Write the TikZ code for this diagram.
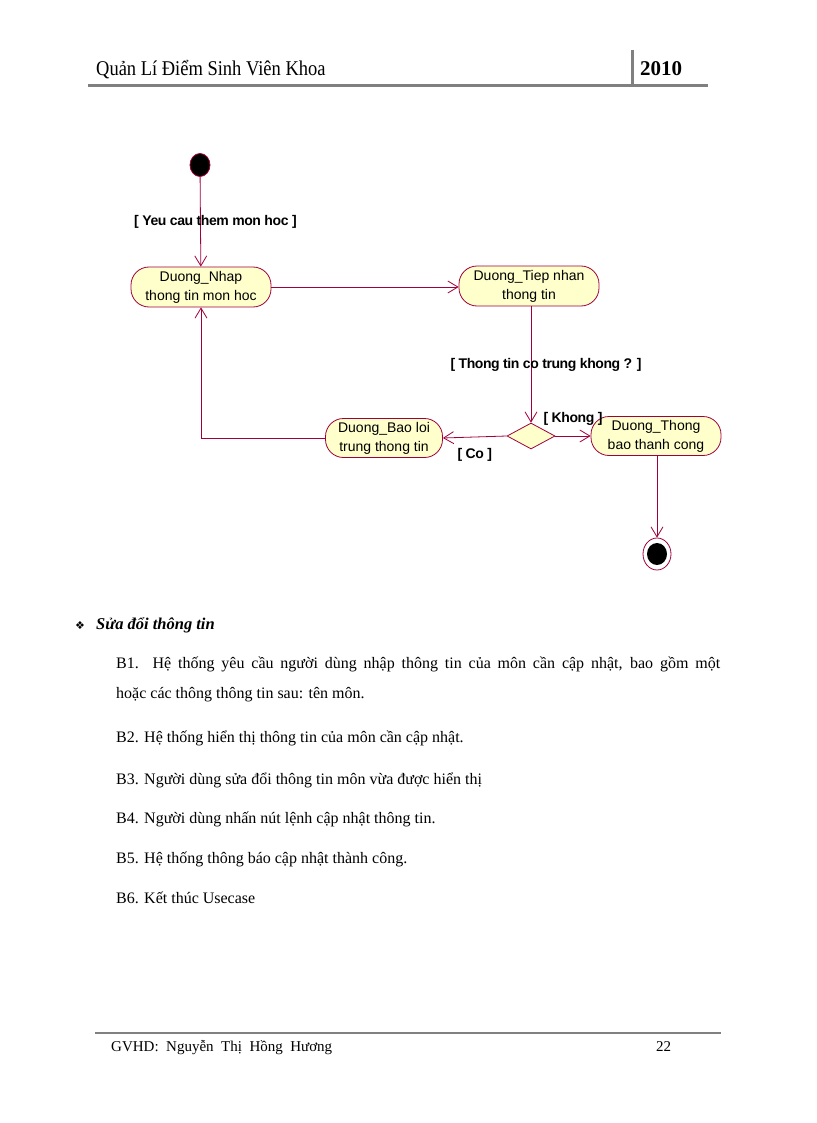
\documentclass[tikz,border=0pt]{standalone}
\usepackage{fontspec}
\setmainfont{Liberation Serif}
\newfontfamily\arialf{Liberation Sans}
\newfontfamily\lblfont[LetterSpace=-3]{Liberation Sans}
\newfontfamily\hdrfont[FakeStretch=0.88]{Liberation Serif}
\newfontfamily\dejavu{DejaVu Sans}
\usetikzlibrary{arrows.meta,shapes.geometric}
\definecolor{umlred}{RGB}{160,0,60}
\definecolor{umlfill}{RGB}{255,255,204}
\definecolor{rulegray}{RGB}{128,128,128}
\tikzset{
  activity/.style={draw=umlred, fill=umlfill, line width=0.8pt, rounded corners=18pt,
    minimum width=140pt, minimum height=40pt, inner sep=0pt, align=center,
    font=\arialf\fontsize{14}{19}\selectfont},
  flow/.style={draw=umlred, line width=0.8pt, -{Straight Barb[length=10pt,width=12pt,line width=0.8pt]}},
  lbl/.style={font=\lblfont\bfseries\fontsize{14}{16}\selectfont, inner sep=0pt},
  bodytext/.style={anchor=base west, inner sep=0pt, font=\fontsize{16}{30}\selectfont},
  rulefill/.style={draw=rulegray, line width=3pt}
}
\begin{document}
\begin{tikzpicture}[x=1pt,y=-1pt]
\useasboundingbox (0,0) rectangle (816,1123);
% header
\node[anchor=base west, inner sep=0pt, font=\hdrfont\fontsize{21}{24}\selectfont] (htitle) at (96,76) {Quản Lí Điểm Sinh Viên Khoa};
\node[anchor=base west, inner sep=0pt, font=\fontsize{21}{24}\selectfont\bfseries] (hyear) at (640,76) {2010};
\coordinate (hl1) at (88,86);
\coordinate (hl2) at (708,86);
\coordinate (hv1) at (632,50);
\coordinate (hv2) at (632,86);
\draw[rulefill] (hl1) -- (hl2);
\draw[rulefill] (hv1) -- (hv2);

% diagram
\node[ellipse, draw=umlred, fill=black, line width=0.8pt, minimum width=20pt, minimum height=23pt, inner sep=0pt] (start) at (200,165) {};
\node[activity] (nhap) at (201,287) {\raisebox{-2pt}{\parbox{140pt}{\centering Duong\_Nhap\\thong tin mon hoc}}};
\node[activity] (tiep) at (529,286) {\raisebox{-2pt}{\parbox{140pt}{\centering Duong\_Tiep nhan\\thong tin}}};
\node[diamond, draw=umlred, fill=umlfill, line width=0.8pt, minimum width=48pt, minimum height=26pt, aspect=1.85, inner sep=0pt] (dec) at (531,436) {};
\node[activity, minimum width=130pt, minimum height=39pt] (thong) at (656,436) {Duong\_Thong\\bao thanh cong};
\node[activity, minimum width=117pt, minimum height=39pt] (bao) at (384,438) {Duong\_Bao loi\\trung thong tin};
\node[ellipse, draw=umlred, fill=white, line width=0.8pt, minimum width=28pt, minimum height=32pt, inner sep=0pt] (fin) at (657,554) {};
\fill[black] (fin.center) ellipse [x radius=10pt, y radius=11pt];

\draw[flow] (start) -- node[lbl, pos=0.5, xshift=15pt] {[ Yeu cau them mon hoc ]} (nhap);
\draw[flow] (nhap.east) -- (tiep.west |- nhap.east);
\draw[flow] (tiep.south -| dec.north) -- node[lbl, pos=0.5, xshift=15pt] {[ Thong tin co trung khong ? ]} (dec.north);
\draw[flow] (dec.east) -- node[lbl, pos=0.5, yshift=17pt] {[ Khong ]} (thong.west);
\draw[flow] (dec.west) -- node[lbl, pos=0.5, yshift=-18pt] {[ Co ]} (bao.east);
\draw[flow] (bao.west) -| (nhap.south);
\draw[flow] (thong.south -| fin.north) -- (fin.north);

% body text
\node[anchor=base, inner sep=0pt, font=\dejavu\fontsize{11}{12}\selectfont] (bullet) at (80,629) {❖};
\node[anchor=base west, inner sep=0pt, font=\fontsize{16.5}{18}\selectfont\bfseries\itshape] (head) at (96,629) {Sửa đổi thông tin};
\node[anchor=north west, inner sep=0pt, text width=604pt, align=justify, font=\fontsize{16}{30}\selectfont] (b1) at (116,657)
  {B1. Hệ thống yêu cầu người dùng nhập thông tin của môn cần cập nhật, bao gồm một\linebreak hoặc các thông thông tin sau: tên môn.};
\node[bodytext] (b2) at (116,742) {B2. Hệ thống hiển thị thông tin của môn cần cập nhật.};
\node[bodytext] (b3) at (116,784) {B3. Người dùng sửa đổi thông tin môn vừa được hiển thị};
\node[bodytext] (b4) at (116,823) {B4. Người dùng nhấn nút lệnh cập nhật thông tin.};
\node[bodytext] (b5) at (116,863) {B5. Hệ thống thông báo cập nhật thành công.};
\node[bodytext] (b6) at (116,903) {B6. Kết thúc Usecase};

% footer
\coordinate (fl1) at (95,1033);
\coordinate (fl2) at (721,1033);
\draw[draw=rulegray, line width=2pt] (fl1) -- (fl2);
\node[anchor=base west, inner sep=0pt, font=\fontsize{15}{18}\selectfont] (gvhd) at (111,1051) {GVHD:\ \ Nguyễn\ \ Thị\ \ Hồng\ \ Hương};
\node[anchor=base west, inner sep=0pt, font=\fontsize{15}{18}\selectfont] (pnum) at (656,1051) {22};
\end{tikzpicture}
\end{document}
